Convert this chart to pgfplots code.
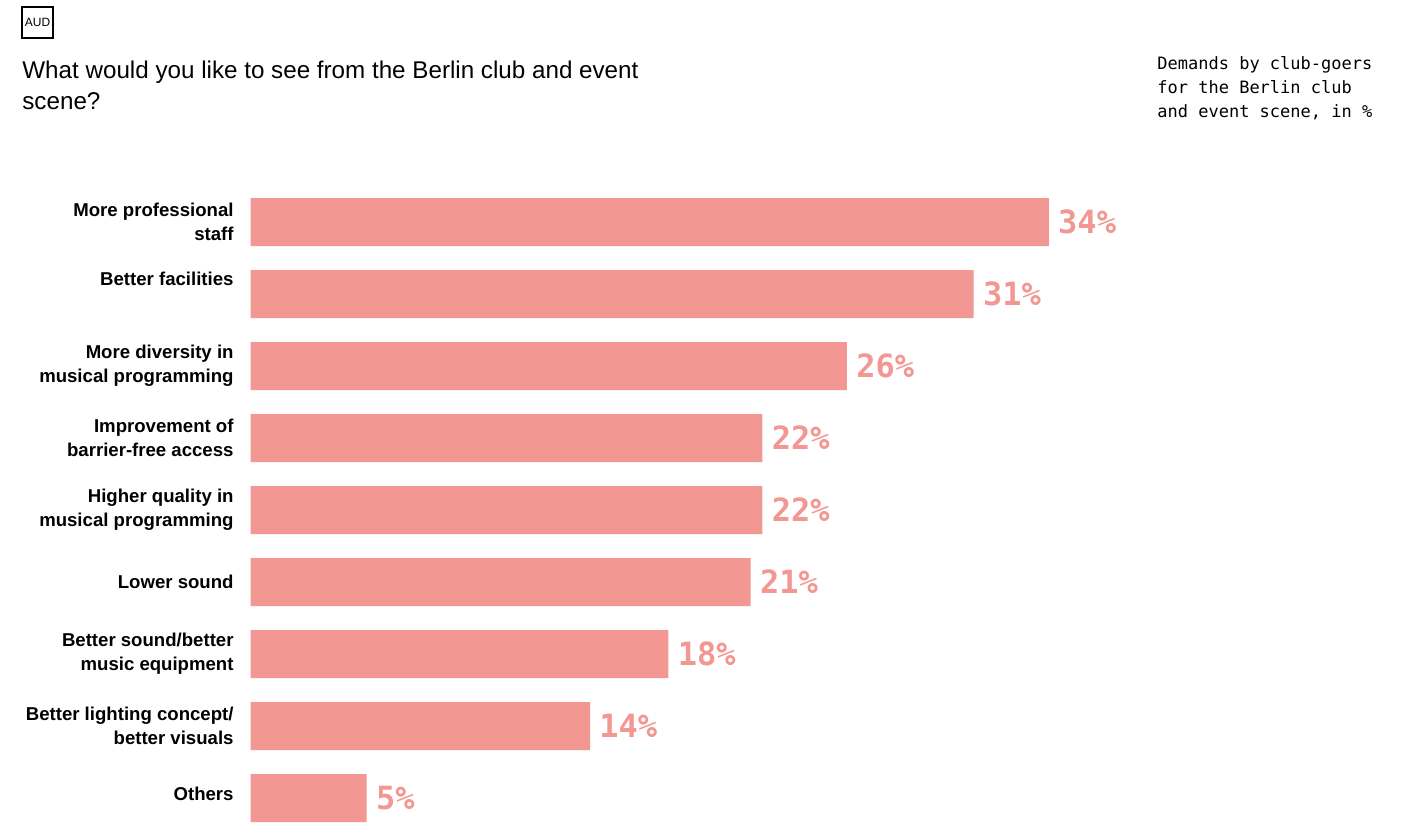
\documentclass[border=0pt]{standalone}
\usepackage{pgfplots}
\pgfplotsset{compat=1.18}
\usepackage{fontspec}
\setmainfont{Liberation Sans}
\newfontfamily\monof{DejaVu Sans Mono}
\definecolor{barcol}{HTML}{F29792}
\begin{document}
\begin{tikzpicture}
\useasboundingbox (0pt,0pt) rectangle (705pt,-412pt);
\draw[line width=0.6pt] (11pt,-3.5pt) rectangle (26.5pt,-19pt);
\node[inner sep=0pt, font=\fontsize{6}{7}\selectfont] at (18.75pt,-11.25pt) {AUD};
\node[anchor=base west, align=left, inner sep=0pt, font=\fontsize{12.1}{15.5}\selectfont] at (11pt,-55pt) {What would you like to see from the Berlin club and event\\scene?};
\node[anchor=base west, align=left, inner sep=0pt, font=\monof\fontsize{8.5}{12}\selectfont] at (578.5pt,-59pt) {Demands by club-goers\\for the Berlin club\\and event scene, in \%};
\begin{axis}[
  at={(125.25pt,-111pt)}, anchor=origin,
  xbar, x=11.74pt, y=36pt, y dir=reverse,
  xmin=0, xmax=36, ymin=-0.5, ymax=8.5,
  bar width=24pt,
  axis line style={draw=none}, tick style={draw=none},
  xtick=\empty, ytick={0,...,8},
  yticklabels={{More professional\\staff},{Better facilities\\\strut},{More diversity in\\musical programming},{Improvement of\\barrier-free access},{Higher quality in\\musical programming},{Lower sound},{Better sound/better\\music equipment},{Better lighting concept/\\better visuals},{\raisebox{4.5pt}{Others}}},
  yticklabel style={align=right, font=\bfseries\fontsize{9.3}{12}\selectfont, inner sep=0pt, xshift=-4pt},
  point meta=explicit,
  nodes near coords={\pgfmathprintnumber[assume math mode=true]{\pgfplotspointmeta}\%},
  nodes near coords style={font=\monof\bfseries\fontsize{16}{16}\selectfont, text=barcol, inner sep=0pt, xshift=4.5pt, anchor=west},
  clip=false,
]
\addplot[fill=barcol, draw=none] table[x=x, y=y, meta=lab] {
y x lab
0 34.0 34
1 30.8 31
2 25.4 26
3 21.8 22
4 21.8 22
5 21.3 21
6 17.8 18
7 14.46 14
8 4.95 5
};
\end{axis}
\end{tikzpicture}
\end{document}
